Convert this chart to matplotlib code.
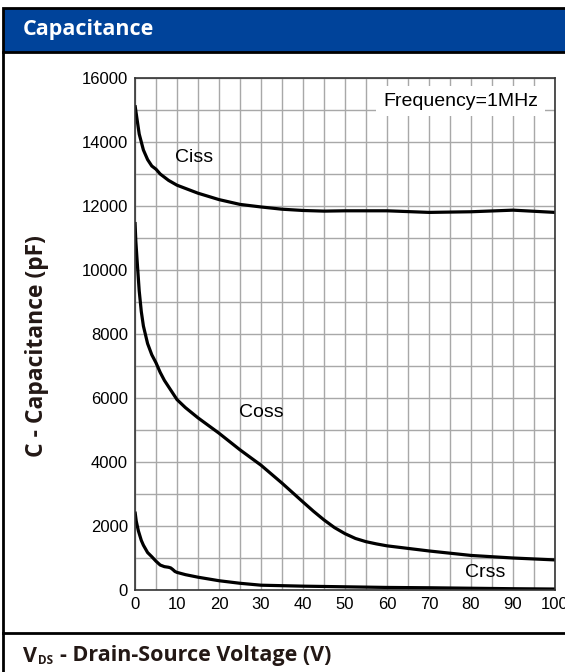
import matplotlib.pyplot as plt
import matplotlib.patches as patches
from matplotlib.lines import Line2D
from matplotlib.ticker import MultipleLocator

W, H = 565, 672

ciss_v = [0, 0.5, 1, 2, 3, 4, 5, 6, 7, 8, 10, 12, 15, 20, 25, 30, 35, 40, 45, 50, 60, 70, 80, 90, 100]
ciss_c = [15150, 14700, 14250, 13750, 13450, 13250, 13150, 13000, 12900, 12800, 12650, 12550,
          12400, 12200, 12050, 11970, 11900, 11860, 11840, 11850, 11850, 11800, 11820, 11870, 11800]

coss_v = [0, 0.2, 0.5, 1, 1.5, 2, 3, 4, 5, 6, 7, 8, 10, 12, 15, 20, 25, 30, 35, 40, 42.5, 45,
          47.5, 50, 52.5, 55, 57.5, 60, 70, 80, 90, 100]
coss_c = [11500, 10900, 10300, 9350, 8700, 8250, 7700, 7350, 7100, 6800, 6550, 6350, 5950,
          5700, 5380, 4900, 4380, 3900, 3340, 2750, 2460, 2190, 1950, 1760, 1610, 1510, 1440,
          1380, 1220, 1080, 1000, 940]

crss_v = [0, 0.3, 0.8, 1.5, 2, 3, 4, 5, 6, 7, 8, 8.5, 9, 9.5, 10, 12, 15, 20, 25, 30, 40, 50,
          60, 70, 80, 90, 100]
crss_c = [2450, 2150, 1850, 1550, 1400, 1170, 1040, 900, 780, 730, 710, 690, 640, 580, 550,
          480, 400, 290, 210, 150, 120, 100, 80, 70, 55, 40, 30]

x_ticks = [0, 10, 20, 30, 40, 50, 60, 70, 80, 90, 100]
y_ticks = [0, 2000, 4000, 6000, 8000, 10000, 12000, 14000, 16000]

dark = '#231815'
blue = '#00439a'
bold_font = ['Open Sans', 'DejaVu Sans']

fig = plt.figure(figsize=(W / 100, H / 100), dpi=100)

def fx(px):
    return px / W

def fy(py):
    return 1 - py / H

# header band and frame
fig.add_artist(patches.Rectangle((fx(3), fy(52)), 1.0, fy(8) - fy(52), transform=fig.transFigure,
                                 facecolor=blue, edgecolor='black', linewidth=2))
fig.add_artist(Line2D([fx(3), fx(3)], [fy(52), 0], transform=fig.transFigure, color='black', lw=2))
fig.add_artist(Line2D([fx(3), 1], [fy(633), fy(633)], transform=fig.transFigure, color='black', lw=2))
fig.text(fx(23), fy(30), 'Capacitance', color='white', fontsize=15.5, fontweight='bold',
         family=bold_font, va='center', ha='left')

ax = fig.add_axes([fx(135), fy(590), fx(555) - fx(135), fy(78) - fy(590)])
for xs, ys in [(ciss_v, ciss_c), (coss_v, coss_c), (crss_v, crss_c)]:
    ax.plot(xs, ys, color='black', lw=2.3, solid_capstyle='butt', solid_joinstyle='round')

ax.set_xlim(0, 100)
ax.set_ylim(0, 16000)
ax.set_xticks(x_ticks)
ax.set_yticks(y_ticks)
ax.xaxis.set_minor_locator(MultipleLocator(5))
ax.yaxis.set_minor_locator(MultipleLocator(1000))
ax.set_axisbelow(True)
ax.grid(which='both', color='#a8a8a8', lw=1)
ax.tick_params(which='both', length=0, labelsize=12, pad=5)
for lab in ax.get_xticklabels() + ax.get_yticklabels():
    lab.set_family(['Liberation Sans', 'DejaVu Sans'])
for s in ax.spines.values():
    s.set_color('#333333')
    s.set_linewidth(1.2)

lbl = dict(fontsize=14, family=['Liberation Sans', 'DejaVu Sans'], va='center', ha='left')
ax.text(9.6, 13500, 'Ciss', **lbl)
ax.text(24.8, 5560, 'Coss', **lbl)
ax.text(78.5, 560, 'Crss', **lbl)
ax.text(77.5, 15280, 'Frequency=1MHz', fontsize=14, family=['Liberation Sans', 'DejaVu Sans'],
        va='center', ha='center',
        bbox=dict(boxstyle='square,pad=0.35', facecolor='white', edgecolor='none'))

fig.text(fx(37), fy(346), 'C - Capacitance (pF)', rotation=90, color=dark, fontsize=16.5,
         fontweight='bold', family=bold_font, va='center', ha='center')

v = fig.text(fx(23), fy(657), 'V', color=dark, fontsize=15.5, fontweight='bold',
             family=bold_font, va='center', ha='left')
ann = plt.annotate('DS', xy=(1, 0.0), xycoords=v, xytext=(1, 0), textcoords='offset points',
                   color=dark, fontsize=8.5, fontweight='bold', family=bold_font,
                   va='bottom', ha='left', annotation_clip=False)
plt.annotate('- Drain-Source Voltage (V)', xy=(1, 0.0), xycoords=ann, xytext=(5, 1),
             textcoords='offset points', color=dark, fontsize=15.5, fontweight='bold',
             family=bold_font, va='bottom', ha='left', annotation_clip=False)

fig.savefig('out.png', dpi=100)
